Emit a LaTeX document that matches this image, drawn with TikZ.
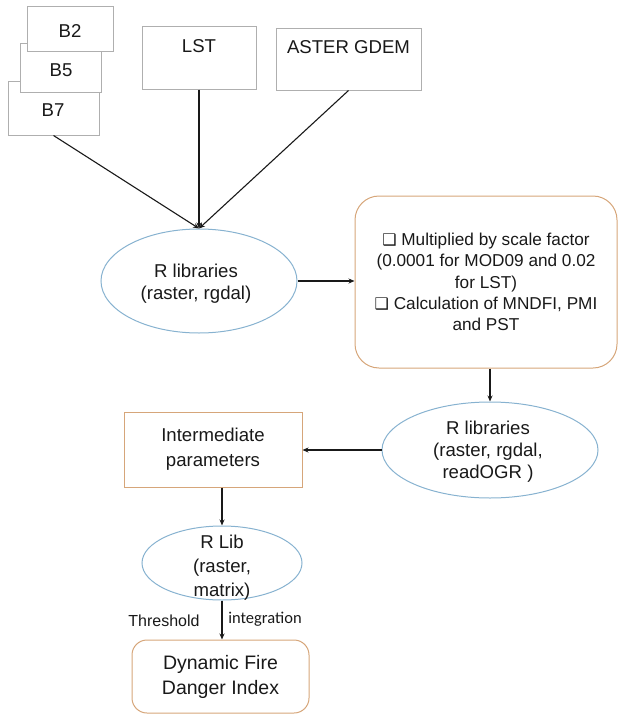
\documentclass[tikz,border=0pt]{standalone}
\usepackage{fontspec}
\setmainfont{Liberation Sans}
\newfontfamily\symfont{DejaVu Sans}
\newfontfamily\calfont{Carlito}
\usetikzlibrary{shapes.geometric,arrows.meta}
\definecolor{inkc}{RGB}{25,25,25}
\definecolor{greyline}{RGB}{175,175,175}
\definecolor{ovalline}{RGB}{135,178,208}
\definecolor{tanline}{RGB}{214,166,122}
\newcommand{\chk}{{\symfont\fontsize{16}{16}\selectfont ❑}\ }
\tikzset{
  inbox/.style={draw=greyline, line width=1pt, fill=white, rectangle, inner sep=0pt},
  oval/.style={draw=ovalline, line width=1pt, ellipse, inner sep=0pt},
  tanbox/.style={draw=tanline, line width=1pt, rectangle, inner sep=0pt, align=center, text=inkc},
  txt/.style={text=inkc, align=center, inner sep=0pt},
  arr/.style={draw=inkc, line width=1.1pt, -{Stealth[length=6pt,width=5pt]}},
}
\begin{document}
\begin{tikzpicture}[x=1pt,y=-1pt,font=\fontsize{18.6}{22}\selectfont]
\useasboundingbox (0,0) rectangle (619,717);

% stacked band tiles
\node[inbox, minimum width=91pt, minimum height=54pt] (b7) at (53.5,108) {};
\node[inbox, minimum width=81pt, minimum height=48pt] (b5) at (60.5,68) {};
\node[inbox, minimum width=86pt, minimum height=45pt] (b2) at (70,29.5) {};
\node[txt] (tb2) at (70,31) {B2};
\node[txt] (tb5) at (61,70) {B5};
\node[txt] (tb7) at (53,110) {B7};

% other inputs
\node[inbox, minimum width=114pt, minimum height=62pt] (lst) at (199,58) {};
\node[txt] (tlst) at (199,46) {LST};
\node[inbox, minimum width=145pt, minimum height=61pt] (aster) at (348.5,59.5) {};
\node[txt] (taster) at (348.5,47) {ASTER GDEM};

% first R step
\node[oval, minimum width=196pt, minimum height=104pt] (e1) at (199,281) {};
\node[txt] (te1) at (196,284) {R libraries\\(raster, rgdal)};

% processing box
\node[tanbox, rounded corners=24pt, minimum width=262pt, minimum height=172pt,
      font=\fontsize{17.2}{21.3}\selectfont] (proc) at (486,282)
  {\chk Multiplied by scale factor\\(0.0001 for MOD09 and 0.02\\for LST)\\\chk Calculation of MNDFI, PMI\\and PST};

% second R step
\node[oval, minimum width=216pt, minimum height=96pt] (e2) at (490,450) {};
\node[txt] (te2) at (488,452) {R libraries\\(raster, rgdal,\\readOGR )};

% intermediate parameters
\node[tanbox, minimum width=178pt, minimum height=75pt,
      font=\fontsize{18.6}{25}\selectfont] (inter) at (213,449.5) {Intermediate\\parameters};

% third R step
\node[oval, minimum width=160pt, minimum height=74pt] (e3) at (222,563) {};
\node[txt, font=\fontsize{18.6}{24}\selectfont] (te3) at (222,568) {R Lib\\(raster,\\matrix)};

% final index
\node[tanbox, rounded corners=15pt, minimum width=177pt, minimum height=73pt,
      font=\fontsize{19.5}{25}\selectfont] (dfdi) at (220.5,676.5) {Dynamic Fire\\Danger Index};

% connectors
\draw[arr] (b7.south) -- (e1.north);
\draw[arr] (lst.south) -- (e1.north);
\draw[arr] (aster.south) -- (e1.north);
\draw[arr] (e1.east) -- (e1.east -| proc.west);
\draw[arr] (proc.south -| e2.north) -- (e2.north);
\draw[arr] (e2.west) -- (e2.west -| inter.east);
\draw[arr] (inter.south -| e3.north) -- (e3.north);
\draw[arr] (e3.south) -- (e3.south |- dfdi.north);

% labels on the last connector
\node[txt, font=\fontsize{16}{18}\selectfont] (thr) at (164,621) {Threshold};
\node[txt, font=\calfont\fontsize{16.5}{18}\selectfont] (integ) at (265,619) {integration};
\end{tikzpicture}
\end{document}
